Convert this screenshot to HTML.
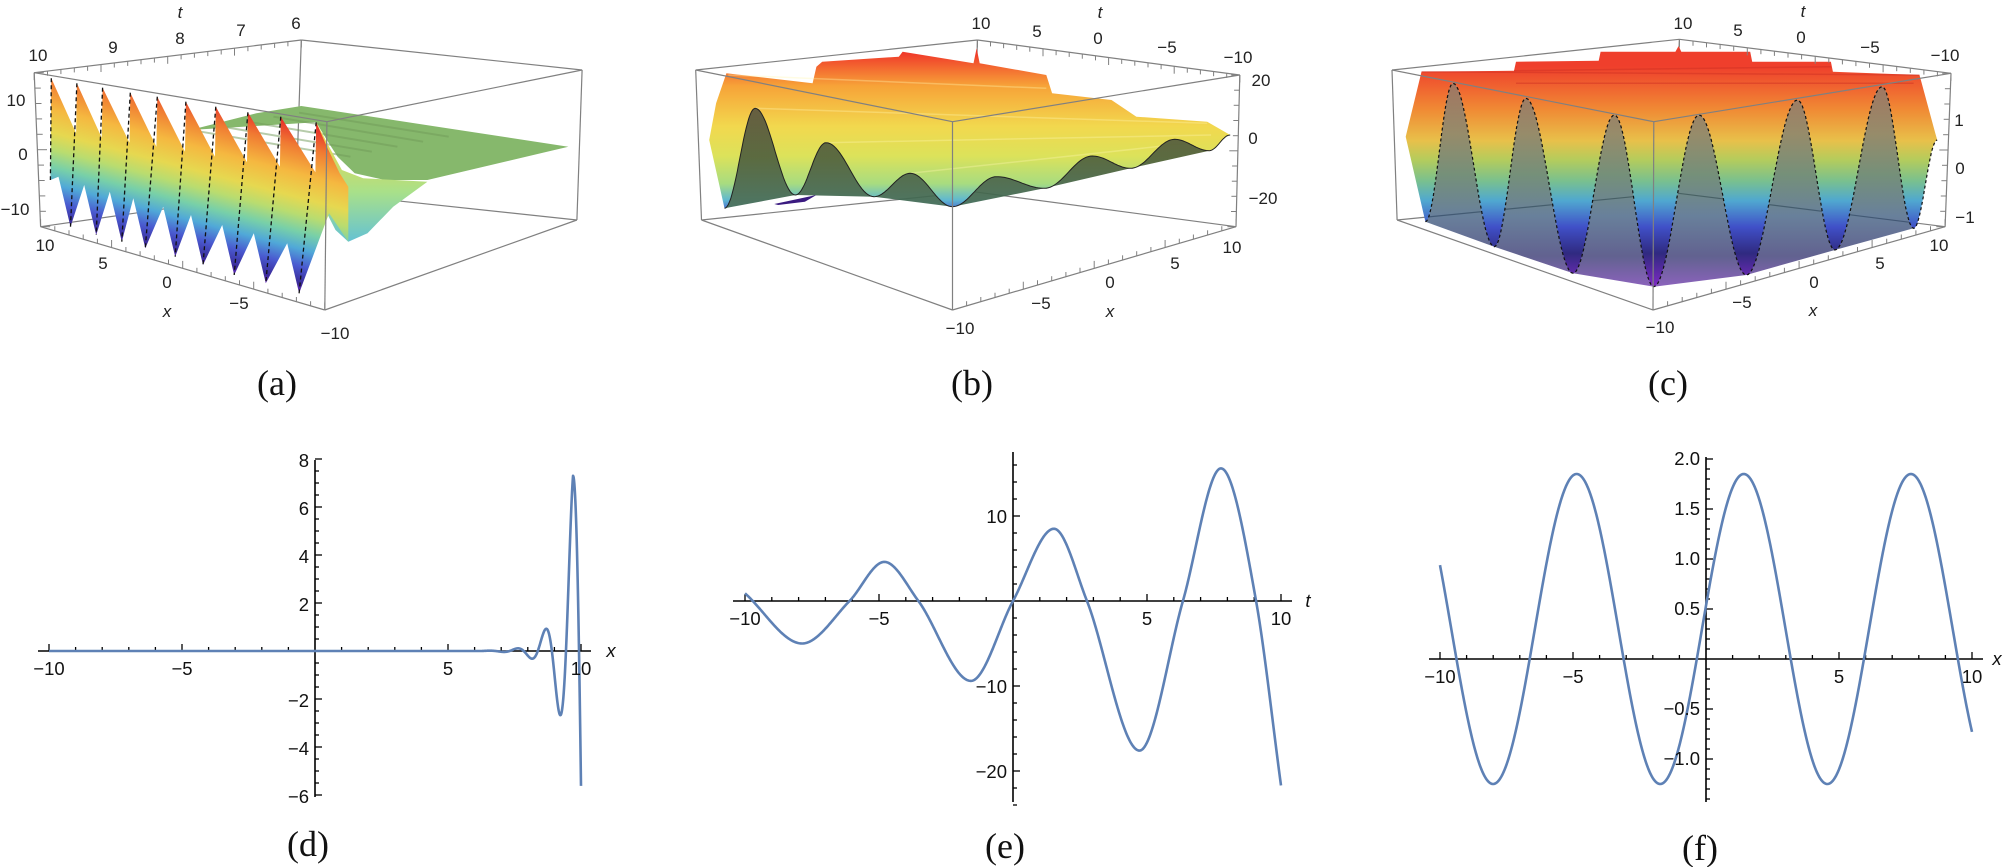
<!DOCTYPE html>
<html><head><meta charset="utf-8"><style>
html,body{margin:0;padding:0;background:#fff;width:2007px;height:867px;overflow:hidden}
svg{display:block}
.t{font-family:"Liberation Sans",sans-serif;font-size:18.5px;fill:#111}
.t3{font-family:"Liberation Sans",sans-serif;font-size:17px;fill:#222}
.cap{font-family:"Liberation Serif",serif;font-size:36px;fill:#111}
.it{font-style:italic}
</style></head><body>
<svg id="s" width="2007" height="867" viewBox="0 0 2007 867" xmlns="http://www.w3.org/2000/svg">
<defs>
<linearGradient id="ga" gradientUnits="userSpaceOnUse" x1="171" y1="92" x2="129" y2="252">
<stop offset="0" stop-color="#e8352b"/><stop offset="0.12" stop-color="#f07a32"/><stop offset="0.28" stop-color="#f5b840"/><stop offset="0.42" stop-color="#e6d850"/><stop offset="0.52" stop-color="#b8dc70"/><stop offset="0.62" stop-color="#78d0a8"/><stop offset="0.72" stop-color="#50a8d8"/><stop offset="0.82" stop-color="#4a5ad0"/><stop offset="0.92" stop-color="#3a2a98"/><stop offset="1" stop-color="#7a28c8"/>
</linearGradient>
<linearGradient id="gadip" gradientUnits="userSpaceOnUse" x1="0" y1="140" x2="0" y2="245">
<stop offset="0" stop-color="#e8d850"/><stop offset="0.5" stop-color="#a8e08a"/><stop offset="1" stop-color="#60c0d8"/>
</linearGradient>
<linearGradient id="gb" gradientUnits="userSpaceOnUse" x1="0" y1="50" x2="0" y2="213">
<stop offset="0.02" stop-color="#f03a2a"/><stop offset="0.22" stop-color="#f7a338"/><stop offset="0.47" stop-color="#f2d84e"/><stop offset="0.65" stop-color="#dce25a"/><stop offset="0.82" stop-color="#a8dc80"/><stop offset="0.92" stop-color="#60b8d0"/><stop offset="1" stop-color="#4050d0"/>
</linearGradient>
<linearGradient id="gbd" gradientUnits="userSpaceOnUse" x1="0" y1="108" x2="0" y2="208">
<stop offset="0" stop-color="#5a5030"/><stop offset="0.5" stop-color="#4d5e30"/><stop offset="1" stop-color="#3d6a58"/>
</linearGradient>
<linearGradient id="gc" gradientUnits="userSpaceOnUse" x1="0" y1="47" x2="0" y2="287">
<stop offset="0.08" stop-color="#ef3f2c"/><stop offset="0.26" stop-color="#f08a34"/><stop offset="0.39" stop-color="#e8c04a"/><stop offset="0.47" stop-color="#b4cc5c"/><stop offset="0.56" stop-color="#78c090"/><stop offset="0.64" stop-color="#50a8d0"/><stop offset="0.75" stop-color="#4050c8"/><stop offset="0.86" stop-color="#302a80"/><stop offset="0.99" stop-color="#7a2ac0"/>
</linearGradient>
<linearGradient id="gcd" gradientUnits="userSpaceOnUse" x1="0" y1="83" x2="0" y2="287">
<stop offset="0" stop-color="#7a3a1c"/><stop offset="0.25" stop-color="#6a5a2a"/><stop offset="0.45" stop-color="#3a6040"/><stop offset="0.65" stop-color="#284a70"/><stop offset="0.85" stop-color="#1e1e60"/><stop offset="1" stop-color="#5a20a0"/>
</linearGradient>
</defs>
<g id="dyn"></g>
<text class="t3" x="16" y="106" text-anchor="middle">10</text>
<text class="t3" x="23" y="160" text-anchor="middle">0</text>
<text class="t3" x="15" y="215" text-anchor="middle">−10</text>
<text class="t3" x="38" y="61" text-anchor="middle">10</text>
<text class="t3" x="113" y="53" text-anchor="middle">9</text>
<text class="t3" x="180" y="44" text-anchor="middle">8</text>
<text class="t3" x="241" y="36" text-anchor="middle">7</text>
<text class="t3" x="296" y="29" text-anchor="middle">6</text>
<text class="t3 it" x="180" y="18" text-anchor="middle">t</text>
<text class="t3" x="45" y="251" text-anchor="middle">10</text>
<text class="t3" x="103" y="269" text-anchor="middle">5</text>
<text class="t3" x="167" y="288" text-anchor="middle">0</text>
<text class="t3" x="239" y="309" text-anchor="middle">−5</text>
<text class="t3 it" x="167" y="317" text-anchor="middle">x</text>
<text class="t3" x="335" y="339" text-anchor="middle">−10</text>
<text class="t3" x="981" y="29" text-anchor="middle">10</text>
<text class="t3" x="1037" y="37" text-anchor="middle">5</text>
<text class="t3" x="1098" y="44" text-anchor="middle">0</text>
<text class="t3" x="1167" y="53" text-anchor="middle">−5</text>
<text class="t3" x="1238" y="63" text-anchor="middle">−10</text>
<text class="t3 it" x="1100" y="18" text-anchor="middle">t</text>
<text class="t3" x="1261" y="86" text-anchor="middle">20</text>
<text class="t3" x="1253" y="144" text-anchor="middle">0</text>
<text class="t3" x="1263" y="204" text-anchor="middle">−20</text>
<text class="t3" x="1232" y="253" text-anchor="middle">10</text>
<text class="t3" x="1175" y="269" text-anchor="middle">5</text>
<text class="t3" x="1110" y="288" text-anchor="middle">0</text>
<text class="t3" x="1041" y="309" text-anchor="middle">−5</text>
<text class="t3 it" x="1110" y="317" text-anchor="middle">x</text>
<text class="t3" x="960" y="334" text-anchor="middle">−10</text>
<text class="t3" x="1683" y="29" text-anchor="middle">10</text>
<text class="t3" x="1738" y="36" text-anchor="middle">5</text>
<text class="t3" x="1801" y="43" text-anchor="middle">0</text>
<text class="t3" x="1870" y="53" text-anchor="middle">−5</text>
<text class="t3" x="1945" y="61" text-anchor="middle">−10</text>
<text class="t3 it" x="1803" y="17" text-anchor="middle">t</text>
<text class="t3" x="1959" y="126" text-anchor="middle">1</text>
<text class="t3" x="1960" y="174" text-anchor="middle">0</text>
<text class="t3" x="1965" y="223" text-anchor="middle">−1</text>
<text class="t3" x="1939" y="251" text-anchor="middle">10</text>
<text class="t3" x="1880" y="269" text-anchor="middle">5</text>
<text class="t3" x="1814" y="288" text-anchor="middle">0</text>
<text class="t3" x="1742" y="308" text-anchor="middle">−5</text>
<text class="t3 it" x="1813" y="316" text-anchor="middle">x</text>
<text class="t3" x="1660" y="333" text-anchor="middle">−10</text>
<text class="cap" x="277" y="395" text-anchor="middle">(a)</text>
<text class="cap" x="972" y="395" text-anchor="middle">(b)</text>
<text class="cap" x="1668" y="395" text-anchor="middle">(c)</text>
<text class="cap" x="308" y="856" text-anchor="middle">(d)</text>
<text class="cap" x="1005" y="858" text-anchor="middle">(e)</text>
<text class="cap" x="1700" y="860" text-anchor="middle">(f)</text>
<text class="t" x="49" y="675" text-anchor="middle">−10</text>
<text class="t" x="182" y="675" text-anchor="middle">−5</text>
<text class="t" x="448" y="675" text-anchor="middle">5</text>
<text class="t" x="581" y="675" text-anchor="middle">10</text>
<text class="t it" x="611" y="657" text-anchor="middle">x</text>
<text class="t" x="309" y="467" text-anchor="end">8</text>
<text class="t" x="309" y="515" text-anchor="end">6</text>
<text class="t" x="309" y="563" text-anchor="end">4</text>
<text class="t" x="309" y="611" text-anchor="end">2</text>
<text class="t" x="309" y="707" text-anchor="end">−2</text>
<text class="t" x="309" y="755" text-anchor="end">−4</text>
<text class="t" x="309" y="803" text-anchor="end">−6</text>
<text class="t" x="745" y="625" text-anchor="middle">−10</text>
<text class="t" x="879" y="625" text-anchor="middle">−5</text>
<text class="t" x="1147" y="625" text-anchor="middle">5</text>
<text class="t" x="1281" y="625" text-anchor="middle">10</text>
<text class="t it" x="1308" y="607" text-anchor="middle">t</text>
<text class="t" x="1007" y="523" text-anchor="end">10</text>
<text class="t" x="1007" y="693" text-anchor="end">−10</text>
<text class="t" x="1007" y="778" text-anchor="end">−20</text>
<text class="t" x="1440" y="683" text-anchor="middle">−10</text>
<text class="t" x="1573" y="683" text-anchor="middle">−5</text>
<text class="t" x="1839" y="683" text-anchor="middle">5</text>
<text class="t" x="1972" y="683" text-anchor="middle">10</text>
<text class="t it" x="1997" y="665" text-anchor="middle">x</text>
<text class="t" x="1700" y="465" text-anchor="end">2.0</text>
<text class="t" x="1700" y="515" text-anchor="end">1.5</text>
<text class="t" x="1700" y="565" text-anchor="end">1.0</text>
<text class="t" x="1700" y="615" text-anchor="end">0.5</text>
<text class="t" x="1700" y="715" text-anchor="end">−0.5</text>
<text class="t" x="1700" y="765" text-anchor="end">−1.0</text>
</svg>
<script>
(function(){
var h='';
function mk(ox,sx,sy){return function(x,y){return [ox+x*sx,y*sy];};}
var A=mk(0,1/2.34,1/3),B=mk(690,1/2.61,1/3),C=mk(1390,1/2.54,1/3);
function P(f,pts,close){var s='';for(var i=0;i<pts.length;i++){var q=f(pts[i][0],pts[i][1]);s+=(i?'L':'M')+q[0].toFixed(1)+' '+q[1].toFixed(1);}return s+(close?'Z':'');}
function wave(ext,n){n=n||24;var pts=[];for(var i=0;i<ext.length-1;i++){var a=ext[i],b=ext[i+1];for(var k=(i?1:0);k<=n;k++){var s=k/n;pts.push([a[0]+(b[0]-a[0])*s,a[1]+(b[1]-a[1])*(1-Math.cos(Math.PI*s))/2]);}}return pts;}
function ln(f,a,b,c,w){return '<path d="'+P(f,[a,b])+'" stroke="'+(c||'#808080')+'" stroke-width="'+(w||1.2)+'" fill="none"/>';}
function box(f,b,front){
 var TL=b.TL,TB=b.TB,TR=b.TR,TF=b.TF,BL=b.BL,BF=b.BF,BR=b.BR,BB=b.BB;
 if(!front) return ln(f,TB,BB)+ln(f,BL,BB)+ln(f,BB,BR);
 return ln(f,TL,TB)+ln(f,TB,TR)+ln(f,TR,TF)+ln(f,TF,TL)+ln(f,TL,BL)+ln(f,TF,BF)+ln(f,TR,BR)+ln(f,BL,BF)+ln(f,BF,BR);
}
function ticks(f,p,q,n,dx,dy){var s='';for(var i=0;i<=n;i++){var x=p[0]+(q[0]-p[0])*i/n,y=p[1]+(q[1]-p[1])*i/n;var m=(i%5==0)?1.6:1;s+=ln(f,[x,y],[x+dx*m,y+dy*m],'#808080',1);}return s;}
function rev(a){return a.slice().reverse();}

var ba={TL:[80,218],TB:[705,120],TR:[1362,210],TF:[765,365],BL:[95,680],BF:[760,930],BR:[1350,660],BB:[693,570]};
h+=box(A,ba,false);
h+='<path d="'+P(A,[[445,390],[600,340],[705,318],[1330,440],[1290,452],[1000,540],[900,540],[830,520],[790,470],[765,420],[740,367]],true)+'" fill="#86b86c"/>';
[[470,395,820,470],[520,380,870,455],[580,365,930,440],[640,350,990,425],[700,338,1050,410]].forEach(function(r){h+='<path d="'+P(A,[[r[0],r[1]],[r[2],r[3]]])+'" stroke="#6f9a58" stroke-width="2" fill="none" opacity="0.5"/>';});
h+='<path d="'+P(A,[[740,367],[770,440],[800,510],[850,535],[1000,545],[920,620],[860,700],[815,725],[785,690],[765,640],[740,560]],true)+'" fill="url(#gadip)"/>';
var Pk=[[120,235],[180,250],[240,263],[305,278],[368,290],[435,305],[505,320],[580,337],[657,350],[740,367]];
var Tr=[[165,680],[225,705],[285,725],[340,745],[410,770],[475,795],[548,825],[622,850],[700,880]];
var top=[[118,540]];
for(var i=0;i<Pk.length;i++){top.push(Pk[i]);if(i<Pk.length-1)top.push([Pk[i+1][0]-2,Pk[i+1][1]+150]);}
top.push([765,440],[795,520],[815,560]);
var bot=[[815,725],[770,640]];
for(var i=Tr.length-1;i>=0;i--){bot.push(Tr[i]);bot.push([Tr[i][0]-28,Tr[i][1]-150]);}
h+='<path d="'+P(A,top.concat(bot),true)+'" fill="url(#ga)"/>';
for(var i=0;i<Pk.length;i++){var b0=i==0?[118,540]:Tr[i-1];h+='<path d="'+P(A,[Pk[i],b0])+'" stroke="#111" stroke-width="1.3" stroke-dasharray="4 3" fill="none"/>';}
h+=box(A,ba,true);
h+=ticks(A,ba.TL,ba.TB,20,0,14);
h+=ticks(A,ba.BL,ba.BF,20,0,-14);
h+=ticks(A,ba.TL,ba.BL,10,14,0);

var bb={TL:[15,210],TB:[750,120],TR:[1435,225],TF:[685,365],BL:[30,660],BF:[685,930],BR:[1425,680],BB:[740,575]};
h+=box(B,bb,false);
var btop=[[50,420],[68,310],[95,220],[320,250],[330,200],[345,185],[545,170],[555,155],[740,190],[748,145],[756,190],[930,225],[945,280],[1100,300],[1165,350],[1350,365]];
var bext=[[90,625],[170,325],[275,585],[355,428],[480,590],[575,520],[685,620],[800,530],[925,565],[1050,468],[1150,505],[1265,418],[1355,452],[1410,405]];
var bw=wave(bext);
h+='<path d="'+P(B,btop.concat(rev(bw)),true)+'" fill="url(#gb)"/>';
[[170,325,1350,370],[355,428,1360,405],[100,225,930,265],[575,520,1300,430]].forEach(function(r){h+='<path d="'+P(B,[[r[0],r[1]],[r[2],r[3]]])+'" stroke="#fff6b0" stroke-width="1.5" fill="none" opacity="0.35"/>';});
for(var i=1;i<bext.length-1;i+=2){var seg=wave([bext[i-1],bext[i],bext[i+1]]);h+='<path d="'+P(B,seg,true)+'" fill="url(#gbd)" opacity="0.92"/>';}
h+='<path d="'+P(B,[[220,612],[330,585],[300,605],[230,615]],true)+'" fill="#3a1a80"/>';
h+='<path d="'+P(B,bw)+'" stroke="#222" stroke-width="1" fill="none"/>';
h+=box(B,bb,true);
h+=ticks(B,bb.BF,bb.BR,20,0,-14);
h+=ticks(B,bb.TB,bb.TR,20,0,14);
h+=ticks(B,bb.TR,bb.BR,10,-14,0);

var bc={TL:[5,210],TB:[735,118],TR:[1425,220],TF:[670,365],BL:[18,660],BF:[668,930],BR:[1410,680],BB:[720,578]};
h+=box(C,bc,false);
var ctop=[[80,215],[315,212],[320,185],[530,182],[535,155],[725,155],[733,138],[740,155],[915,155],[920,185],[1120,185],[1125,215],[1345,225],[1385,400]];
var cext=[[90,665],[160,250],[265,740],[345,295],[465,820],[570,345],[670,860],[785,345],[905,825],[1035,300],[1130,750],[1250,260],[1330,685],[1390,420]];
var cw=wave(cext);
h+='<path d="'+P(C,ctop.concat(rev(cw)).concat([[40,410]]),true)+'" fill="url(#gc)"/>';
[[80,215,1345,225],[315,212,1120,200],[320,250,1330,250]].forEach(function(r){h+='<path d="'+P(C,[[r[0],r[1]],[r[2],r[3]]])+'" stroke="#c82a20" stroke-width="1.5" fill="none" opacity="0.4"/>';});
for(var i=1;i<cext.length-1;i+=2){var seg=wave([cext[i-1],cext[i],cext[i+1]]);h+='<path d="'+P(C,seg,true)+'" fill="url(#gcd)" opacity="0.7"/>';}
h+='<path d="'+P(C,cw)+'" stroke="#111" stroke-width="1.2" stroke-dasharray="3 2.5" fill="none"/>';
h+=box(C,bc,true);
h+=ticks(C,bc.BF,bc.BR,20,0,-14);
h+=ticks(C,bc.TB,bc.TR,20,0,14);
h+=ticks(C,bc.TR,bc.BR,10,-14,0);

function L2(x1,y1,x2,y2,w){return '<line x1="'+x1.toFixed(1)+'" y1="'+y1.toFixed(1)+'" x2="'+x2.toFixed(1)+'" y2="'+y2.toFixed(1)+'" stroke="#000" stroke-width="'+(w||1.3)+'"/>';}
function curve(X,Y,fn,a,b,n){var s='';for(var i=0;i<=n;i++){var x=a+(b-a)*i/n;s+=(i?'L':'M')+X(x).toFixed(2)+' '+Y(fn(x)).toFixed(2);}return '<path d="'+s+'" stroke="#5e81b5" stroke-width="2.6" fill="none" stroke-linejoin="round"/>';}
(function(){var X=function(x){return 315+26.6*x},Y=function(y){return 651-24*y};
h+=L2(38,651,591,651,1.6)+L2(315,460,315,797,1.6);
for(var i=-10;i<=10;i++){if(i==0)continue;var l=(i%5==0)?7:4;h+=L2(X(i),651,X(i),651-l);}
for(var v=-6;v<=8;v+=0.5){if(v==0)continue;var l=(v%2==0)?7:4;h+=L2(315,Y(v),315+l,Y(v));}
function fd(x){if(x<6.3)return 0;if(x<=9.7)return 7.3*Math.exp(2*(x-9.7))*Math.cos(Math.PI*(x-9.7)/0.53);var u=x-9.7;return 7.3*Math.cos(Math.PI*u/0.45)*(1+6*u*u);}
h+=curve(X,Y,fd,-10,10,1600);})();
(function(){var X=function(x){return 1013+26.8*x},Y=function(y){return 601-8.5*y};
h+=L2(733,601,1292,601,1.6)+L2(1013,452,1013,802,1.6);
for(var i=-10;i<=10;i++){if(i==0)continue;var l=(i%5==0)?7:4;h+=L2(X(i),601,X(i),601-l);}
for(var v=-24;v<=16;v+=2){if(v==0)continue;var l=(v%10==0)?7:4;h+=L2(1013,Y(v),1013+l,Y(v));}
var p=[[-10,0.9],[-7.87,-5.0],[-6.1,0],[-4.8,4.6],[-3.53,0],[-1.57,-9.4],[0,0],[1.53,8.5],[2.76,0],[4.72,-17.6],[6.34,0],[7.76,15.6],[9.07,0],[10,-21.7]];
var n=p.length,d=[],m=[];for(var i=0;i<n-1;i++)d.push((p[i+1][1]-p[i][1])/(p[i+1][0]-p[i][0]));
m[0]=d[0];m[n-1]=d[n-2];for(var i=1;i<n-1;i++){m[i]=(d[i-1]*d[i]<=0)?0:(d[i-1]+d[i])/2;}
function fe(t){for(var i=0;i<n-1;i++){if(t<=p[i+1][0]||i==n-2){var hh=p[i+1][0]-p[i][0],s=(t-p[i][0])/hh;var h00=2*s*s*s-3*s*s+1,h10=s*s*s-2*s*s+s,h01=-2*s*s*s+3*s*s,h11=s*s*s-s*s;return h00*p[i][1]+h10*hh*m[i]+h01*p[i+1][1]+h11*hh*m[i+1];}}}
h+=curve(X,Y,fe,-10,10,800);})();
(function(){var X=function(x){return 1706+26.6*x},Y=function(y){return 659-100*y};
h+=L2(1429,659,1983,659,1.6)+L2(1706,457,1706,802,1.6);
for(var i=-10;i<=10;i++){if(i==0)continue;var l=(i%5==0)?7:4;h+=L2(X(i),659,X(i),659-l);}
for(var k=-14;k<=20;k++){if(k==0)continue;var l=(k%5==0)?7:4;h+=L2(1706,Y(k/10),1706+l,Y(k/10));}
h+=curve(X,Y,function(x){return 0.3+1.55*Math.cos(x-1.42)},-10,10,800);})();

document.getElementById('dyn').innerHTML=h;
})();
</script>
</body></html>
